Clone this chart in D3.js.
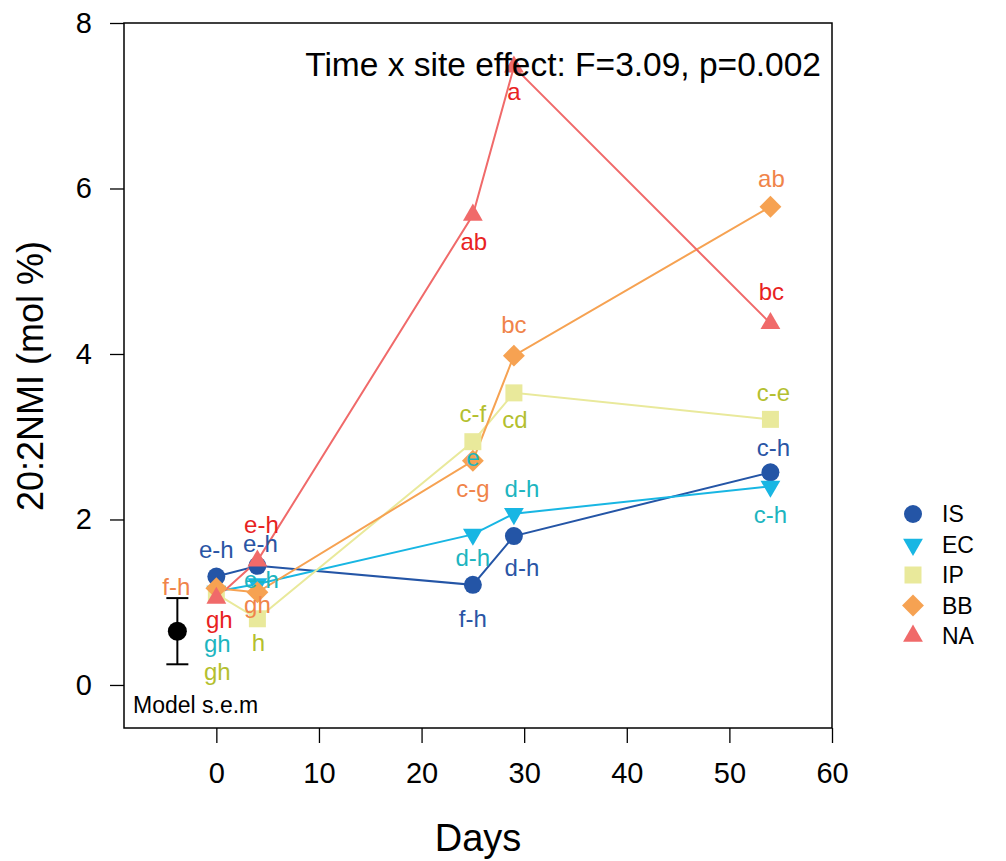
<!DOCTYPE html>
<html>
<head>
<meta charset="utf-8">
<script src="https://cdn.jsdelivr.net/npm/d3@7.9.0/dist/d3.min.js"></script>
<style>
  body { margin: 0; background: #fff; }
  svg { display: block; font-family: "Liberation Sans", Arial, sans-serif; }
</style>
</head>
<body>
<svg id="chart" width="1006" height="861"></svg>
<script>
// sampling days and sites
const days = [0, 4, 25, 29, 54];
const sites = ['IS', 'EC', 'IP', 'BB', 'NA'];

// 20:2NMI (mol %) per site
const isValues = [1.31, 1.44, 1.21, 1.80, 2.57];
const ecValues = [1.13, 1.22, 1.82, 2.07, 2.40];
const ipValues = [1.10, 0.80, 2.94, 3.53, 3.21];
const bbValues = [1.17, 1.12, 2.71, 3.98, 5.78];
const naValues = [1.05, 1.50, 5.68, 7.47, 4.37];

// significance letters
const isLetters = ['e-h', 'e-h', 'f-h', 'd-h', 'c-h'];
const ecLetters = ['gh', 'e-h', 'd-h', 'd-h', 'c-h'];
const ipLetters = ['gh', 'h', 'c-f', 'cd', 'c-e'];
const bbLetters = ['f-h', 'gh', 'c-g', 'bc', 'ab'];
const naLetters = ['gh', 'e-h', 'ab', 'a', 'bc'];

// model standard error marker
const semDay = -3.8;
const semMean = 0.65;
const semLow = 0.25;
const semHigh = 1.05;

const xTicks = [0, 10, 20, 30, 40, 50, 60];
const yTicks = [0, 2, 4, 6, 8];

const values = { IS: isValues, EC: ecValues, IP: ipValues, BB: bbValues, NA: naValues };
const letters = { IS: isLetters, EC: ecLetters, IP: ipLetters, BB: bbLetters, NA: naLetters };

const lineColor = { IS: '#2455a6', EC: '#18b6e3', IP: '#e9e99b', BB: '#f6a252', NA: '#f06a6a' };
const textColor = { IS: '#2a55a5', EC: '#1db5bf', IP: '#b4bf2f', BB: '#f0844a', NA: '#e82222' };

// letter placement (pixel nudges from the marker)
const nudge = {
  IS: [[0, -19], [3, -14], [0, 42], [8, 40], [3, -16]],
  EC: [[1, 61], [4, 4], [0, 32], [8, -17], [0, 37]],
  IP: [[1, 86], [1, 32], [0, -20], [1, 35], [3, -18]],
  BB: [[-40, 7], [0, 21], [0, 36], [0, -23], [1, -20]],
  NA: [[3, 30], [4, -28], [1, 35], [0, 33], [1, -23]]
};

const svg = d3.select('#chart');

const x = d3.scaleLinear().domain([-9, 60]).range([124, 832]);
const y = d3.scaleLinear().domain([-0.52, 8]).range([728, 23]);

const symbols = {
  IS: { type: d3.symbolCircle, size: 254, rot: 0 },
  EC: { type: d3.symbolTriangle, size: 170, rot: 180 },
  IP: { type: d3.symbolSquare, size: 289, rot: 0 },
  BB: { type: d3.symbolSquare, size: 240, rot: 45 },
  NA: { type: d3.symbolTriangle, size: 170, rot: 0 }
};

// axes
const yAxis = d3.axisLeft(y).tickValues(yTicks).tickSize(14).tickPadding(18);
const gy = svg.append('g').attr('transform', `translate(124,0)`).call(yAxis);
gy.select('.domain').remove();
gy.selectAll('line').attr('stroke', '#000').attr('stroke-width', 1.3);
gy.selectAll('text').attr('font-size', 29).attr('fill', '#000')
  .attr('font-family', '"Liberation Sans", Arial, sans-serif');

const xAxis = d3.axisBottom(x).tickValues(xTicks).tickSize(15).tickPadding(19);
const gx = svg.append('g').attr('transform', `translate(0,728)`).call(xAxis);
gx.select('.domain').remove();
gx.selectAll('line').attr('stroke', '#000').attr('stroke-width', 1.3);
gx.selectAll('text').attr('font-size', 29).attr('fill', '#000')
  .attr('font-family', '"Liberation Sans", Arial, sans-serif');

// plot box
svg.append('rect')
  .attr('x', 124).attr('y', 23)
  .attr('width', 832 - 124).attr('height', 728 - 23)
  .attr('fill', 'none').attr('stroke', '#000').attr('stroke-width', 1.5);

// axis titles
svg.append('text')
  .attr('x', x(25.5)).attr('y', 851)
  .attr('text-anchor', 'middle').attr('font-size', 38)
  .text('Days');

svg.append('text')
  .attr('transform', 'translate(43,376) rotate(-90)')
  .attr('text-anchor', 'middle').attr('font-size', 36)
  .text('20:2NMI (mol %)');

// lines
const line = d3.line().x((d) => x(d.day)).y((d) => y(d.value));
const seriesData = sites.map((s) => ({
  site: s,
  points: days.map((d, i) => ({ day: d, value: values[s][i], letter: letters[s][i], i }))
}));

seriesData.forEach((sd) => {
  svg.append('path')
    .datum(sd.points)
    .attr('d', line)
    .attr('fill', 'none')
    .attr('stroke', lineColor[sd.site])
    .attr('stroke-width', 2);
});

// markers
seriesData.forEach((sd) => {
  const sym = symbols[sd.site];
  svg.append('g').selectAll('path')
    .data(sd.points)
    .enter()
    .append('path')
    .attr('d', d3.symbol().type(sym.type).size(sym.size))
    .attr('transform', (d) => `translate(${x(d.day)},${y(d.value)}) rotate(${sym.rot})`)
    .attr('fill', lineColor[sd.site]);
});

// letters
seriesData.forEach((sd) => {
  svg.append('g').selectAll('text')
    .data(sd.points)
    .enter()
    .append('text')
    .attr('x', (d) => x(d.day) + nudge[sd.site][d.i][0])
    .attr('y', (d) => y(d.value) + nudge[sd.site][d.i][1])
    .attr('text-anchor', 'middle')
    .attr('font-size', 24)
    .attr('fill', textColor[sd.site])
    .text((d) => d.letter);
});

// stray letter near the day 25 cluster
svg.append('text')
  .attr('x', x(25)).attr('y', y(ecValues[2]) - 68)
  .attr('text-anchor', 'middle').attr('font-size', 24)
  .attr('fill', textColor.EC)
  .text('e');

// model s.e.m
svg.append('line')
  .attr('x1', x(semDay)).attr('x2', x(semDay))
  .attr('y1', y(semLow)).attr('y2', y(semHigh))
  .attr('stroke', '#000').attr('stroke-width', 2);
[semLow, semHigh].forEach((v) => {
  svg.append('line')
    .attr('x1', x(semDay) - 11).attr('x2', x(semDay) + 11)
    .attr('y1', y(v)).attr('y2', y(v))
    .attr('stroke', '#000').attr('stroke-width', 2);
});
svg.append('circle')
  .attr('cx', x(semDay)).attr('cy', y(semMean)).attr('r', 9.5)
  .attr('fill', '#000');
svg.append('text')
  .attr('x', 133).attr('y', 713)
  .attr('font-size', 23)
  .text('Model s.e.m');

// effect text
svg.append('text')
  .attr('x', 821).attr('y', 76)
  .attr('text-anchor', 'end').attr('font-size', 33.5)
  .text('Time x site effect: F=3.09, p=0.002');

// legend
const legend = svg.append('g').attr('transform', 'translate(913,514)');
const items = legend.selectAll('g')
  .data(sites)
  .enter()
  .append('g')
  .attr('transform', (d, i) => `translate(0,${i * 30.5})`);
items.append('path')
  .attr('d', (d) => d3.symbol().type(symbols[d].type).size(symbols[d].size)())
  .attr('transform', (d) => `rotate(${symbols[d].rot})`)
  .attr('fill', (d) => lineColor[d]);
items.append('text')
  .attr('x', 29).attr('y', 8)
  .attr('font-size', 23)
  .text((d) => d);
</script>
</body>
</html>
